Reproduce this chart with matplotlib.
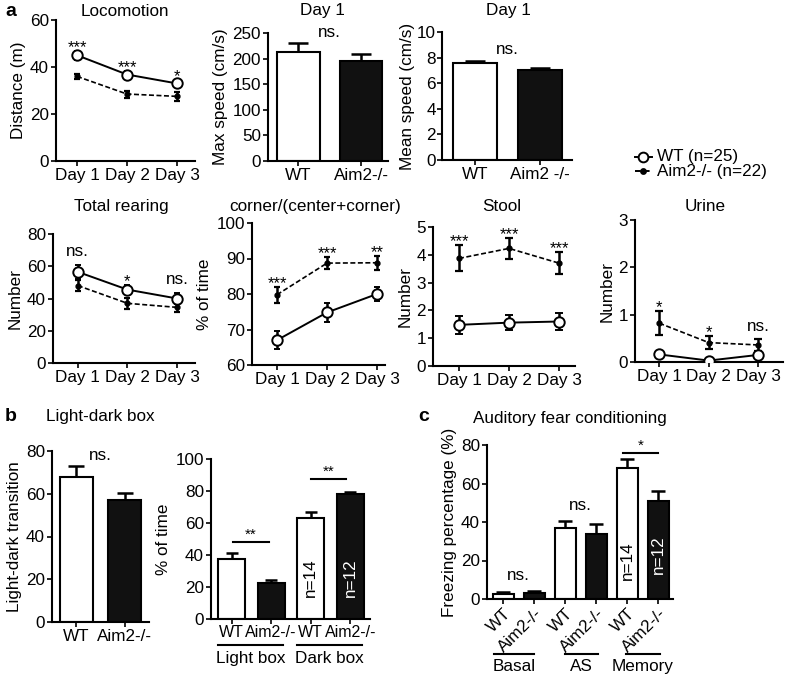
import numpy as np
import matplotlib
matplotlib.use('Agg')
from matplotlib import pyplot as plt
from matplotlib.lines import Line2D

plt.rcParams['font.family'] = ['Liberation Sans', 'DejaVu Sans']
plt.rcParams['font.size'] = 12

W, H = 787, 678
FS = 12.3

days = ['Day 1', 'Day 2', 'Day 3']
genotypes = ['WT', 'Aim2-/-']

# panel a, line charts (mean, sem)
loco_wt = [45.0, 36.8, 33.0]
loco_wt_err = [2.0, 1.5, 1.5]
loco_ko = [36.0, 28.5, 27.5]
loco_ko_err = [1.2, 1.5, 1.8]
loco_sig = ['***', '***', '*']

rear_wt = [56.5, 45.5, 40.0]
rear_wt_err = [4.5, 3.0, 3.5]
rear_ko = [48.0, 37.0, 34.5]
rear_ko_err = [3.5, 3.5, 3.0]
rear_sig = ['ns.', '*', 'ns.']

corner_wt = [67.0, 74.8, 80.0]
corner_wt_err = [2.5, 2.7, 2.0]
corner_ko = [79.8, 88.7, 88.8]
corner_ko_err = [2.3, 1.7, 2.0]
corner_sig = ['***', '***', '**']

stool_wt = [1.48, 1.56, 1.60]
stool_wt_err = [0.33, 0.28, 0.30]
stool_ko = [3.87, 4.23, 3.70]
stool_ko_err = [0.47, 0.37, 0.40]
stool_sig = ['***', '***', '***']

urine_wt = [0.16, 0.03, 0.15]
urine_wt_err = [0.06, 0.03, 0.07]
urine_ko = [0.82, 0.41, 0.36]
urine_ko_err = [0.25, 0.14, 0.12]
urine_sig = ['*', '*', 'ns.']

# panel a, bars
max_speed = [212, 196]
max_speed_err = [18, 13]
mean_speed = [7.55, 7.0]
mean_speed_err = [0.2, 0.15]
mean_speed_labels = ['WT', 'Aim2 -/-']

# panel b
ld_transition = [68, 57]
ld_transition_err = [5, 3.5]
box_labels = ['WT', 'Aim2-/-', 'WT', 'Aim2-/-']
box_time = [37.5, 22.5, 63, 78]
box_time_err = [4, 2, 4, 1.5]

# panel c
fear_labels = ['WT', 'Aim2-/-', 'WT', 'Aim2-/-', 'WT', 'Aim2-/-']
freezing = [2.8, 3.3, 37, 34, 68, 50.8]
freezing_err = [0.6, 0.6, 3.5, 5, 4.5, 5.5]

fills = ['white', '#111111']


def add_ax(fig, left, top, right, bottom):
    ax = fig.add_axes([left / W, 1 - bottom / H, (right - left) / W, (bottom - top) / H])
    for s in ['top', 'right']:
        ax.spines[s].set_visible(False)
    for s in ['left', 'bottom']:
        ax.spines[s].set_linewidth(1.5)
    ax.tick_params(width=1.2, length=3.5, pad=1.5, labelsize=FS)
    return ax


def ftext(x, y, s, **kw):
    fig.text(x / W, 1 - y / H, s, ha='center', va='center', fontsize=FS, **kw)


def line_panel(ax, wt, wt_err, ko, ko_err, sig, ylim, yticks, ylabel, xlim, cap=2.2):
    x = np.arange(len(days))
    ax.errorbar(x, ko, yerr=ko_err, color='k', ls=(0, (3, 1.5)), lw=1.2, marker='o', ms=3.5,
                capsize=cap, elinewidth=1.8, capthick=1.6, zorder=2)
    ax.errorbar(x, wt, yerr=wt_err, color='k', ls='-', lw=1.4, marker='o', ms=7.5, mfc='white',
                mec='k', mew=1.4, capsize=cap, elinewidth=1.8, capthick=1.6, zorder=3)
    tops = np.maximum(np.add(wt, wt_err), np.add(ko, ko_err))
    for xi, t, s in zip(x, tops, sig):
        if '*' in s:
            ax.annotate(s, (xi, t), xytext=(0, -3), textcoords='offset points',
                        ha='center', va='bottom', fontsize=12)
        else:
            ax.annotate(s, (xi, t), xytext=(0, 4), textcoords='offset points',
                        ha='center', va='bottom', fontsize=FS)
    ax.set_xticks(x)
    ax.set_xticklabels(days)
    ax.set_xlim(*xlim)
    ax.set_ylim(*ylim)
    ax.set_yticks(yticks)
    ax.set_ylabel(ylabel, labelpad=3, fontsize=FS)


def bar_panel(ax, vals, errs, labels, xlim, ylim, yticks, ylabel, cap):
    x = np.arange(len(vals))
    colors = [fills[i % 2] for i in range(len(vals))]
    ax.bar(x, vals, width=0.68, color=colors, edgecolor='k', lw=1.5, zorder=2)
    ax.errorbar(x, vals, yerr=[np.zeros(len(vals)), errs], fmt='none', ecolor='k',
                elinewidth=1.8, capsize=cap, capthick=1.8, zorder=1)
    ax.set_xticks(x)
    ax.set_xticklabels(labels)
    ax.set_xlim(*xlim)
    ax.set_ylim(*ylim)
    ax.set_yticks(yticks)
    ax.set_ylabel(ylabel, labelpad=3, fontsize=FS)
    return x


def ns_between(ax, x0, x1, vals, errs, s='ns.', off=4):
    top = max(np.add(vals, errs))
    ax.annotate(s, ((x0 + x1) / 2, top), xytext=(0, off), textcoords='offset points',
                ha='center', va='bottom', fontsize=FS)


def sig_line(ax, x0, x1, y, s):
    ax.plot([x0, x1], [y, y], color='k', lw=1.5, clip_on=False)
    ax.annotate(s, ((x0 + x1) / 2, y), xytext=(0, 0), textcoords='offset points',
                ha='center', va='bottom', fontsize=11)


def group_line(ax, x0, x1, y_line, y_text, s):
    tr = ax.get_xaxis_transform()
    ax.plot([x0, x1], [y_line, y_line], color='k', lw=1.5, transform=tr, clip_on=False)
    ax.text((x0 + x1) / 2, y_text, s, transform=tr, ha='center', va='center', fontsize=FS)


fig = plt.figure(figsize=(W / 100, H / 100), dpi=100)

# ---- row 1
ax = add_ax(fig, 56, 20, 195, 161)
line_panel(ax, loco_wt, loco_wt_err, loco_ko, loco_ko_err, loco_sig, (0, 60), [0, 20, 40, 60],
           'Distance (m)', (-0.42, 2.36), cap=2.0)
ftext(125, 11, 'Locomotion')

ax = add_ax(fig, 268, 33, 388, 161)
bar_panel(ax, max_speed, max_speed_err, genotypes, (-0.48, 1.43), (0, 250),
          [0, 50, 100, 150, 200, 250], 'Max speed (cm/s)', cap=7.5)
ns_between(ax, 0, 1, max_speed, max_speed_err, off=2)
ftext(322, 11, 'Day 1')

ax = add_ax(fig, 442, 32, 572, 160)
bar_panel(ax, mean_speed, mean_speed_err, mean_speed_labels, (-0.51, 1.49), (0, 10),
          [0, 2, 4, 6, 8, 10], 'Mean speed (cm/s)', cap=7.5)
ax.tick_params(axis='y', pad=1)
ax.set_ylabel('Mean speed (cm/s)', labelpad=1, fontsize=FS)
ns_between(ax, 0, 1, mean_speed, mean_speed_err, off=3)
ftext(508, 11, 'Day 1')

# legend
for y, ls, ms, mfc, lab in [(157, '-', 7, 'white', 'WT (n=25)'),
                            (171, (0, (3, 1.5)), 3.5, 'k', 'Aim2-/- (n=22)')]:
    fig.lines.append(Line2D([635 / W, 652 / W], [1 - y / H, 1 - y / H], transform=fig.transFigure,
                            color='k', ls=ls, lw=1.4))
    fig.lines.append(Line2D([643 / W], [1 - y / H], transform=fig.transFigure, marker='o', ms=ms,
                            mfc=mfc, mec='k', mew=1.4, ls='none'))
    fig.text(657 / W, 1 - y / H, lab, ha='left', va='center', fontsize=FS)

# ---- row 2
ax = add_ax(fig, 53, 234, 195, 363)
line_panel(ax, rear_wt, rear_wt_err, rear_ko, rear_ko_err, rear_sig, (0, 80), [0, 20, 40, 60, 80],
           'Number', (-0.5, 2.36))
ftext(121, 207, 'Total rearing')

ax = add_ax(fig, 252, 223, 385, 365)
line_panel(ax, corner_wt, corner_wt_err, corner_ko, corner_ko_err, corner_sig, (60, 100),
           [60, 70, 80, 90, 100], '% of time', (-0.5, 2.16))
ftext(315, 207, 'corner/(center+corner)')

ax = add_ax(fig, 433, 227, 575, 366)
line_panel(ax, stool_wt, stool_wt_err, stool_ko, stool_ko_err, stool_sig, (0, 5),
           [0, 1, 2, 3, 4, 5], 'Number', (-0.52, 2.32), cap=2.6)
ftext(502, 207, 'Stool')

ax = add_ax(fig, 635, 220, 783, 362)
line_panel(ax, urine_wt, urine_wt_err, urine_ko, urine_ko_err, urine_sig, (0, 3),
           [0, 1, 2, 3], 'Number', (-0.49, 2.5), cap=2.6)
ftext(705, 207, 'Urine')

# ---- row 3
ax = add_ax(fig, 52, 451, 149, 622)
bar_panel(ax, ld_transition, ld_transition_err, genotypes, (-0.5, 1.5), (0, 80),
          [0, 20, 40, 60, 80], 'Light-dark transition', cap=5.5)
ns_between(ax, 0, 1, ld_transition, ld_transition_err, off=2)
ftext(100, 417, 'Light-dark box')

ax = add_ax(fig, 211, 459, 370, 619)
x = bar_panel(ax, box_time, box_time_err, box_labels, (-0.52, 3.5), (0, 100),
              [0, 20, 40, 60, 80, 100], '% of time', cap=4.5)
ax.tick_params(axis='x', pad=1, labelsize=11.5)
sig_line(ax, 0.04, 0.95, 48, '**')
sig_line(ax, 2.0, 2.9, 87.5, '**')
group_line(ax, -0.34, 1.3, -0.165, -0.245, 'Light box')
group_line(ax, 1.66, 3.3, -0.165, -0.245, 'Dark box')
ax.text(2, 26, 'n=14', rotation=90, ha='center', va='center', fontsize=FS, color='k')
ax.text(3, 26, 'n=12', rotation=90, ha='center', va='center', fontsize=FS, color='white')

ax = add_ax(fig, 487, 445, 673, 599)
x = bar_panel(ax, freezing, freezing_err, fear_labels, (-0.52, 5.48), (0, 80),
              [0, 20, 40, 60, 80], 'Freezing percentage (%)', cap=4.7)
for lab in ax.get_xticklabels():
    lab.set_rotation(45)
    lab.set_ha('right')
    lab.set_rotation_mode('anchor')
ns_between(ax, 0, 1, freezing[0:2], freezing_err[0:2], off=6)
ns_between(ax, 2, 3, freezing[2:4], freezing_err[2:4], off=6)
sig_line(ax, 3.87, 5.0, 76, '*')
group_line(ax, -0.3, 1.0, -0.36, -0.44, 'Basal')
group_line(ax, 2.0, 3.05, -0.36, -0.44, 'AS')
group_line(ax, 3.95, 5.05, -0.36, -0.44, 'Memory')
ax.text(4, 20, 'n=14', rotation=90, ha='center', va='center', fontsize=FS, color='k')
ax.text(5, 23, 'n=12', rotation=90, ha='center', va='center', fontsize=FS, color='white')
ftext(570, 418, 'Auditory fear conditioning')

# panel letters
fig.text(5 / W, 1 - 11 / H, 'a', fontsize=14, fontweight='bold', va='center')
fig.text(5 / W, 1 - 417 / H, 'b', fontsize=14, fontweight='bold', va='center')
fig.text(418 / W, 1 - 417 / H, 'c', fontsize=14, fontweight='bold', va='center')

fig.savefig('out.png', dpi=100)
